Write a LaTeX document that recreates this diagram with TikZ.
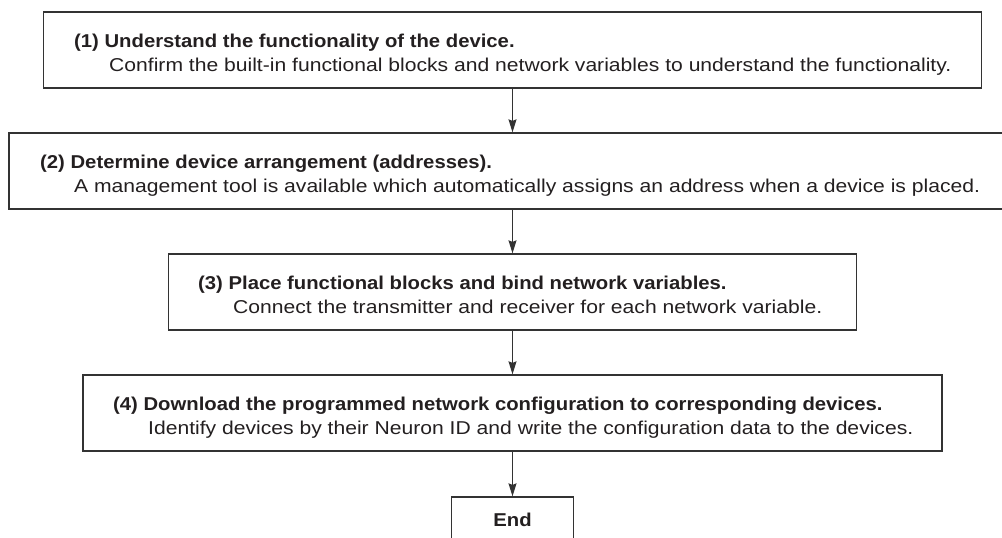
\documentclass[tikz,border=0pt]{standalone}
\usepackage{fontspec}
\setmainfont{Liberation Sans}[FakeStretch=1.135, BoldFeatures={FakeStretch=1.09}]
\usetikzlibrary{arrows.meta}
\definecolor{ink}{HTML}{231F20}
\definecolor{edge}{HTML}{333333}
\tikzset{
  stepbox/.style={draw=edge, line width=1.3pt, rectangle, inner sep=0pt},
  ttl/.style={anchor=base west, inner sep=0pt, text=ink, font=\fontsize{18.6}{22}\selectfont\bfseries},
  txt/.style={anchor=base west, inner sep=0pt, text=ink, font=\fontsize{18.6}{22}\selectfont},
  flow/.style={draw=edge, line width=1.2pt, -{Stealth[length=13pt,width=8pt,inset=1.5pt]}}
}
\begin{document}
\begin{tikzpicture}[x=1pt,y=-1pt]
\useasboundingbox (0,0) rectangle (1002,538);
\clip (0,0) rectangle (1002,538);
\node[stepbox, minimum width=938pt, minimum height=76pt] (b1) at (512.5,50) {};
\node[stepbox, minimum width=1007pt, minimum height=76pt] (b2) at (512.5,171) {};
\node[stepbox, minimum width=688pt, minimum height=76pt] (b3) at (512.5,292) {};
\node[stepbox, minimum width=859pt, minimum height=76pt] (b4) at (512.5,413) {};
\node[stepbox, minimum width=122pt, minimum height=80pt] (bend) at (512.5,537) {};

\node[ttl] (t1) at (74,47) {(1) Understand the functionality of the device.};
\node[txt] (s1) at (109,71) {Confirm the built-in functional blocks and network variables to understand the functionality.};
\node[ttl] (t2) at (40,168) {(2) Determine device arrangement (addresses).};
\node[txt] (s2) at (74,192) {A management tool is available which automatically assigns an address when a device is placed.};
\node[ttl] (t3) at (198,289) {(3) Place functional blocks and bind network variables.};
\node[txt] (s3) at (233,313) {Connect the transmitter and receiver for each network variable.};
\node[ttl] (t4) at (113,410) {(4) Download the programmed network configuration to corresponding devices.};
\node[txt] (s4) at (148,434) {Identify devices by their Neuron ID and write the configuration data to the devices.};
\node[ttl, anchor=base] (te) at (512.5,526) {End};

\draw[flow] (b1.south) -- (b2.north);
\draw[flow] (b2.south) -- (b3.north);
\draw[flow] (b3.south) -- (b4.north);
\draw[flow] (b4.south) -- (bend.north);
\end{tikzpicture}
\end{document}
